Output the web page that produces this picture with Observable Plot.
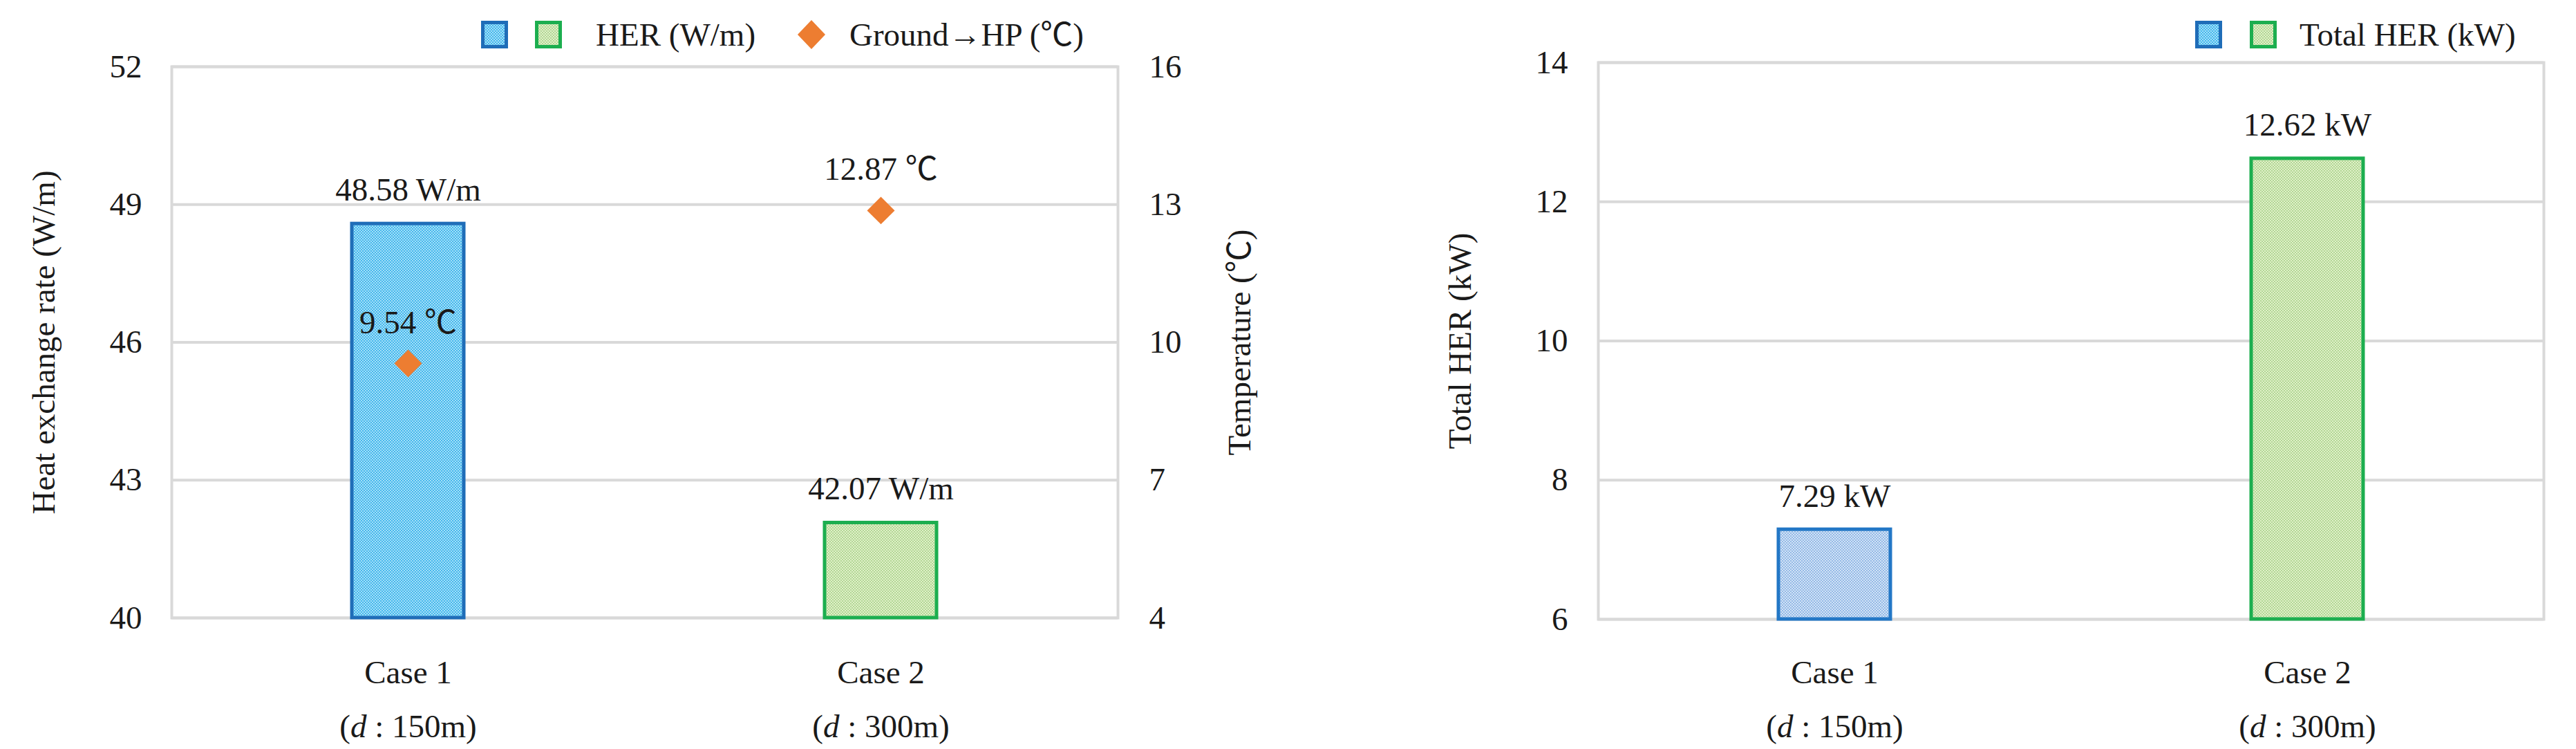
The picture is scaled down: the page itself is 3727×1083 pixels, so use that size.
<!DOCTYPE html>
<html>
<head>
<meta charset="utf-8">
<script src="https://cdn.jsdelivr.net/npm/d3@7"></script>
<script src="https://cdn.jsdelivr.net/npm/@observablehq/plot@0.6"></script>
<style>
  body { margin: 0; background: #ffffff; }
  #root { position: relative; width: 3727px; height: 1083px; overflow: hidden;
          font-family: 'Liberation Serif', 'Noto Sans CJK SC', serif; color: #1a1a1a; }
  .layer { position: absolute; top: 0; }
  .lg { position: absolute; top: 50px; transform: translateY(-50%); font-size: 47px;
        line-height: 1; white-space: nowrap; display: flex; align-items: center; }
</style>
</head>
<body>
<svg width="0" height="0" style="position:absolute">
  <defs>
    <pattern id="patBlue" width="4" height="4" patternUnits="userSpaceOnUse">
      <rect width="4" height="4" fill="#45b8ec"/>
      <rect width="2" height="2" fill="#a4def8"/>
      <rect x="2" y="2" width="2" height="2" fill="#a4def8"/>
    </pattern>
    <pattern id="patGreen" width="4" height="4" patternUnits="userSpaceOnUse">
      <rect width="4" height="4" fill="#b2d796"/>
      <rect width="2" height="2" fill="#e0f0c8"/>
      <rect x="2" y="2" width="2" height="2" fill="#e0f0c8"/>
    </pattern>
    <pattern id="patPale" width="4" height="4" patternUnits="userSpaceOnUse">
      <rect width="4" height="4" fill="#94b9e6"/>
      <rect width="2" height="2" fill="#d2e3f6"/>
      <rect x="2" y="2" width="2" height="2" fill="#d2e3f6"/>
    </pattern>
  </defs>
</svg>
<div id="root"></div>
<script>
// ---------------- data ----------------
const cases = ["Case 1", "Case 2"];
const depths = ["150m", "300m"];
const herWm = [48.58, 42.07];          // HER (W/m)
const groundTemp = [9.54, 12.87];      // Ground→HP (℃)
const totalHerKW = [7.29, 12.62];      // Total HER (kW)
const herTicks = [40, 43, 46, 49, 52];
const tempTicks = [4, 7, 10, 13, 16];
const totalTicks = [6, 8, 10, 12, 14];
const herLabel = "Heat exchange rate (W/m)";
const tempLabel = "Temperature (℃)";
const totalLabel = "Total HER (kW)";

const rows = cases.map((c, i) => ({case: c, depth: depths[i], her: herWm[i], temp: groundTemp[i], total: totalHerKW[i]}));

// ---------------- styling ----------------
const FONT = "'Liberation Serif', 'Noto Sans CJK SC', serif";
const FS = 47;
const GRID = "#d9d9d9";
const TXT = "#1a1a1a";
const BLUE_STROKE = "#1f6db8";
const PALE_STROKE = "#2277c6";
const GREEN_STROKE = "#1cae4f";
const ORANGE = "#ed7d31";

const root = document.getElementById("root");
const xFmt = (d) => `${d}\n(d : ${depths[cases.indexOf(d)]})`;

function baseStyle() {
  return {fontFamily: FONT, fontSize: FS + "px", color: TXT, background: "transparent", overflow: "visible"};
}

function xScale() {
  return {type: "band", domain: cases, paddingInner: 0.763, paddingOuter: 0.3815};
}

function italicD(svg) {
  svg.querySelectorAll("tspan, text").forEach(el => {
    if (el.children.length === 0 && /^\(d : /.test(el.textContent)) {
      const rest = el.textContent.slice(2);
      el.textContent = "";
      el.appendChild(document.createTextNode("("));
      const it = document.createElementNS("http://www.w3.org/2000/svg", "tspan");
      it.setAttribute("font-style", "italic");
      it.textContent = "d";
      el.appendChild(it);
      el.appendChild(document.createTextNode(rest));
    }
  });
}

function place(el, left) {
  el.classList.add("layer");
  el.style.left = left + "px";
  root.appendChild(el);
}

// ---------------- left chart: bars (HER W/m) ----------------
const A = {width: 1900, height: 1083, marginLeft: 248, marginRight: 283, marginTop: 96, marginBottom: 190};
const chartA = Plot.plot({
  ...A,
  style: baseStyle(),
  x: xScale(),
  y: {domain: [herTicks[0], herTicks[herTicks.length - 1]]},
  marks: [
    Plot.gridY(herTicks, {stroke: GRID, strokeWidth: 4, strokeOpacity: 1}),
    Plot.frame({stroke: GRID, strokeWidth: 4}),
    Plot.barY(rows, {filter: d => d.case === cases[0], x: "case", y1: herTicks[0], y2: "her", fill: "url(#patBlue)", stroke: BLUE_STROKE, strokeWidth: 5}),
    Plot.barY(rows, {filter: d => d.case === cases[1], x: "case", y1: herTicks[0], y2: "her", fill: "url(#patGreen)", stroke: GREEN_STROKE, strokeWidth: 5}),
    Plot.text(rows, {x: "case", y: "her", text: d => `${d.her.toFixed(2)} W/m`, dy: -49, fill: TXT}),
    Plot.axisY({ticks: herTicks, tickSize: 0, tickPadding: 43, label: null, tickFormat: d => d, fill: TXT}),
    Plot.axisX({tickSize: 0, tickPadding: 39, label: null, tickFormat: xFmt, lineHeight: 1.66, fill: TXT}),
    Plot.text([herLabel], {text: d => d, frameAnchor: "left", rotate: -90, dx: -185, textAnchor: "middle", lineAnchor: "middle", fill: TXT})
  ]
});
italicD(chartA);
place(chartA, 0);

// ---------------- left chart overlay: temperature (secondary axis) ----------------
const chartA2 = Plot.plot({
  ...A,
  style: baseStyle(),
  x: {...xScale(), axis: null},
  y: {domain: [tempTicks[0], tempTicks[tempTicks.length - 1]]},
  marks: [
    Plot.dot(rows, {x: "case", y: "temp", symbol: "diamond2", r: 18, fill: ORANGE, stroke: "none"}),
    Plot.text(rows, {x: "case", y: "temp", text: d => `${d.temp.toFixed(2)} ℃`, dy: -59, fill: TXT}),
    Plot.axisY({anchor: "right", ticks: tempTicks, tickSize: 0, tickPadding: 45, label: null, tickFormat: d => d, fill: TXT}),
    Plot.text([tempLabel], {text: d => d, frameAnchor: "right", rotate: -90, dx: 176, textAnchor: "middle", lineAnchor: "middle", fill: TXT})
  ]
});
place(chartA2, 0);

// ---------------- right chart: Total HER (kW) ----------------
const B = {width: 1777, height: 1083, marginLeft: 362, marginRight: 47, marginTop: 90, marginBottom: 188};
const chartB = Plot.plot({
  ...B,
  style: baseStyle(),
  x: xScale(),
  y: {domain: [totalTicks[0], totalTicks[totalTicks.length - 1]]},
  marks: [
    Plot.gridY(totalTicks, {stroke: GRID, strokeWidth: 4, strokeOpacity: 1}),
    Plot.frame({stroke: GRID, strokeWidth: 4}),
    Plot.barY(rows, {filter: d => d.case === cases[0], x: "case", y1: totalTicks[0], y2: "total", fill: "url(#patPale)", stroke: PALE_STROKE, strokeWidth: 5}),
    Plot.barY(rows, {filter: d => d.case === cases[1], x: "case", y1: totalTicks[0], y2: "total", fill: "url(#patGreen)", stroke: GREEN_STROKE, strokeWidth: 5}),
    Plot.text(rows, {x: "case", y: "total", text: d => `${d.total.toFixed(2)} kW`, dy: -48, fill: TXT}),
    Plot.axisY({ticks: totalTicks, tickSize: 0, tickPadding: 44, label: null, tickFormat: d => d, fill: TXT}),
    Plot.axisX({tickSize: 0, tickPadding: 37, label: null, tickFormat: xFmt, lineHeight: 1.66, fill: TXT}),
    Plot.text([totalLabel], {text: d => d, frameAnchor: "left", rotate: -90, dx: -200, textAnchor: "middle", lineAnchor: "middle", fill: TXT})
  ]
});
italicD(chartB);
place(chartB, 1950);

// ---------------- legends (HTML, above the plot areas) ----------------
function swatch(pat, stroke) {
  return `<svg width="39" height="40"><rect x="2.5" y="2.5" width="34" height="35" fill="url(#${pat})" stroke="${stroke}" stroke-width="5"/></svg>`;
}
function diamond() {
  return `<svg width="42" height="44"><polygon points="21,1 41,22 21,43 1,22" fill="${ORANGE}"/></svg>`;
}
function lg(left, html) {
  const d = document.createElement("div");
  d.className = "lg";
  d.style.left = left + "px";
  d.innerHTML = html;
  root.appendChild(d);
}
lg(696, swatch("patBlue", BLUE_STROKE));
lg(774, swatch("patGreen", GREEN_STROKE));
lg(862, "HER (W/m)");
lg(1153, diamond());
lg(1229, "Ground→HP (℃)");

lg(3176, swatch("patBlue", BLUE_STROKE));
lg(3255, swatch("patGreen", GREEN_STROKE));
lg(3327, "Total HER (kW)");
</script>
</body>
</html>
